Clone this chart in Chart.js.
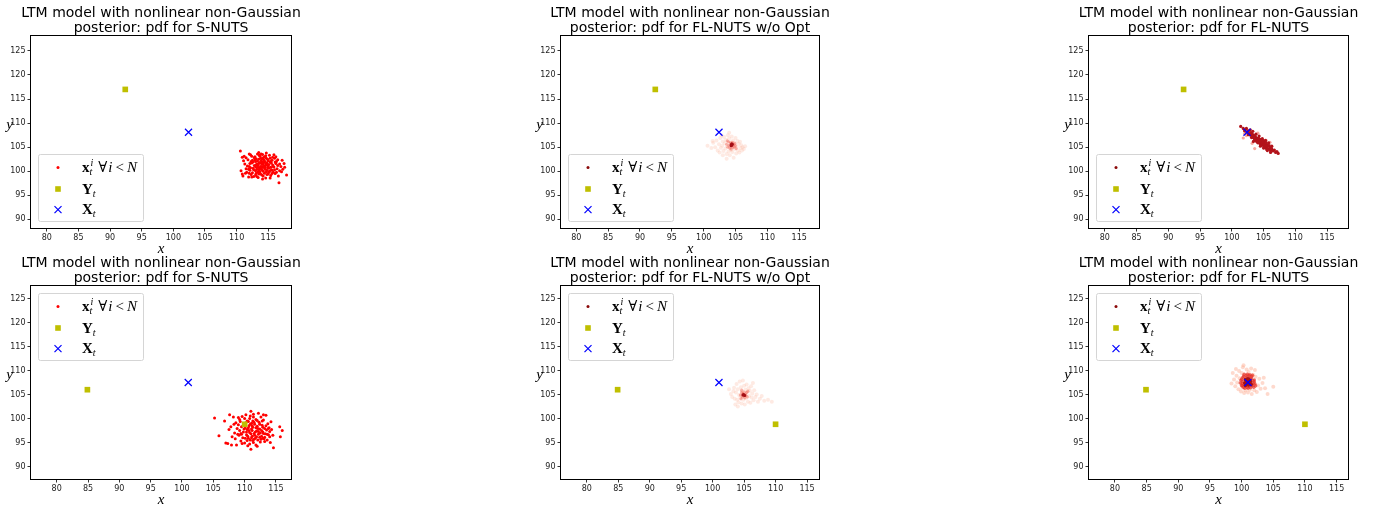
<!DOCTYPE html>
<html>
  <head>
    <meta charset="utf-8" />
    <title>LTM posterior pdf</title>
    <script src="https://cdn.jsdelivr.net/npm/chart.js@4.4.1/dist/chart.umd.min.js"></script>
    <style>
      body { margin: 0; background: #fff; width: 1380px; height: 508px; overflow: hidden; position: relative; }
      canvas { position: absolute; }
    </style>
  </head>
  <body>
    <script>
      // ---- data ----
      const xTicks = [80, 85, 90, 95, 100, 105, 110, 115];
      const yTicks = [90, 95, 100, 105, 110, 115, 120, 125];
      const titleLine1 = "LTM model with nonlinear non-Gaussian";
      const titleLine2 = [
        "posterior: pdf for S-NUTS",
        "posterior: pdf for FL-NUTS w/o Opt",
        "posterior: pdf for FL-NUTS",
      ];

      const obsTop = [[92.4, 117.0]];
      const truthTop = [[102.4, 108.1]];
      const obsBottom = [[84.9, 106.1], [110.0, 98.9]];
      const truthBottom = [[101.0, 107.6]];

      // S-NUTS samples, top row
      const snutsTop = [
        [110.6,104.2],[110.9,102.9],[111.2,103.1],[110.7,100.1],[110.9,99.4],[111.0,99.0],[111.3,101.5],[111.5,100.5],
        [111.6,99.8],[111.8,102.4],[111.9,98.8],[112.0,101.0],[112.1,100.2],[112.2,103.4],[112.3,99.3],[112.4,101.7],
        [112.5,102.3],[112.6,100.6],[112.7,98.9],[112.8,101.2],[112.9,103.0],[113.0,100.1],[113.0,102.0],[113.1,99.6],
        [113.2,101.5],[113.3,103.6],[113.3,100.8],[113.4,98.7],[113.5,102.5],[113.5,100.3],[113.6,101.8],[113.7,99.9],
        [113.7,103.1],[113.8,101.0],[113.9,100.5],[113.9,102.2],[114.0,99.2],[114.0,101.4],[114.1,103.5],[114.2,100.0],
        [114.2,102.8],[114.3,101.1],[114.4,99.6],[114.4,100.7],[114.5,102.0],[114.6,103.2],[114.6,98.6],[114.7,101.6],
        [114.8,100.2],[114.9,102.5],[115.0,99.4],[115.0,101.0],[115.1,100.6],[115.2,103.3],[115.3,101.9],[115.4,99.1],
        [115.5,100.3],[115.6,102.3],[115.7,101.3],[115.8,99.8],[115.9,100.9],[116.0,102.7],[116.1,99.5],[116.2,101.6],
        [116.4,100.5],[116.5,101.2],[116.7,97.6],[116.8,100.1],[117.0,101.0],[117.3,100.4],[117.5,101.6],[117.6,100.8],
        [117.9,99.2],[112.2,100.7],[112.6,101.9],[113.0,100.9],[113.2,98.9],[113.4,101.2],[113.6,100.0],[113.8,102.7],
        [114.0,100.3],[114.3,102.4],[114.5,100.9],[114.8,101.7],[115.1,99.8],[115.4,102.0],[111.4,99.6],[111.7,101.1],
        [112.0,99.6],[112.9,102.4],[113.5,99.4],[114.1,101.9],[114.7,99.9],[115.6,100.2],[116.3,102.0],[111.1,102.2],
        [112.4,98.8],[113.9,103.6],[115.9,103.4],[116.6,99.0],[113.1,101.3],[114.2,101.5],[113.6,100.7],[114.9,101.3],
        [112.1,101.6],[112.3,102.0],[112.5,99.7],[112.7,100.3],[112.8,102.8],[113.0,99.2],[113.1,102.6],[113.2,100.4],
        [113.3,102.1],[113.4,99.9],[113.5,101.6],[113.6,103.3],[113.7,100.6],[113.8,99.4],[113.9,101.7],[114.0,102.6],
        [114.1,100.8],[114.2,99.0],[114.3,101.8],[114.4,103.0],[114.5,100.4],[114.6,101.3],[114.7,102.7],[114.8,99.3],
        [114.9,100.7],[115.0,102.2],[115.1,101.4],[115.2,100.0],[115.3,102.7],[115.4,100.8],[115.5,101.7],[115.6,99.5],
        [115.7,102.9],[115.8,101.0],[116.0,100.3],[116.1,101.9],[116.3,99.8],[116.5,102.4],[116.8,101.5],[117.1,99.9],
        [112.4,103.1],[111.9,100.4],[111.5,102.8],[112.0,103.6],[113.5,103.9],[114.7,103.8],[116.2,103.0],[117.2,102.3],
        [114.1,98.4],[115.3,98.6]
      ];

      // FL-NUTS w/o Opt samples, top row (faint / mid / core density)
      const flnoTopFaint = [
        [100.6,105.3],[101.2,104.8],[101.5,105.9],[101.8,105.0],[102.0,106.4],[102.2,104.3],[102.4,105.6],[102.6,106.9],
        [102.7,104.9],[102.9,105.3],[103.0,106.2],[103.1,104.2],[103.2,107.1],[103.3,105.8],[103.4,104.7],[103.5,106.5],
        [103.6,103.6],[103.7,105.2],[103.8,107.5],[103.9,104.1],[104.0,106.8],[104.1,103.3],[104.2,106.0],[104.3,104.4],
        [104.4,107.2],[104.5,104.0],[104.6,106.4],[104.7,102.8],[104.8,105.9],[104.9,104.6],[105.0,106.9],[105.1,103.7],
        [105.2,105.1],[105.3,106.3],[105.4,104.3],[105.5,105.7],[105.6,103.9],[105.7,106.1],[105.8,104.8],[105.9,105.4],
        [106.0,104.3],[106.1,105.0],[106.3,104.6],[106.5,105.2],[102.5,103.9],[103.0,103.3],[103.6,102.6],[104.0,108.0],
        [102.8,107.4],[101.4,106.3]
      ];
      const flnoTopMid = [
        [103.6,105.6],[103.8,105.0],[103.9,106.1],[104.0,105.4],[104.1,104.8],[104.2,105.9],[104.4,105.2],[104.5,106.0],
        [104.6,104.9],[104.7,105.6],[104.8,105.1],[104.9,105.8],[105.0,105.3],[104.3,104.6],[103.7,106.3],[105.1,104.7]
      ];
      const flnoTopCore = [[104.3,105.5],[104.4,105.4],[104.5,105.6],[104.4,105.7],[104.3,105.3]];

      // FL-NUTS samples, top row
      const flTopDark = [
        [101.4,109.3],[101.8,108.9],[102.0,108.4],[102.2,108.7],[102.4,108.1],[102.6,108.4],[102.7,107.8],[102.9,108.0],
        [103.0,107.5],[103.1,107.9],[103.2,107.2],[103.3,107.6],[103.4,107.0],[103.5,107.4],[103.6,106.8],[103.7,107.2],
        [103.8,106.5],[103.9,106.9],[104.0,106.3],[104.0,106.8],[104.1,106.6],[104.2,106.0],[104.3,106.4],[104.4,105.8],
        [104.4,106.6],[104.5,106.1],[104.6,105.6],[104.7,106.2],[104.8,105.5],[104.9,105.9],[105.0,105.3],[105.0,106.0],
        [105.1,105.6],[105.2,105.1],[105.3,105.7],[105.4,104.9],[105.5,105.4],[105.6,104.7],[105.7,105.2],[105.8,104.6],
        [106.0,104.8],[106.1,104.3],[106.3,104.6],[106.5,104.2],[106.7,104.4],[106.9,103.9],[107.1,104.1],[107.3,103.7],
        [102.8,107.6],[103.5,106.9],[104.2,106.9],[104.6,106.6],[105.2,106.2],[105.6,105.5],[104.1,105.9],[103.9,106.2],
        [102.3,108.9],[102.9,108.6],[103.3,108.3],[103.8,107.7],[104.3,107.3],[104.8,106.8],[105.3,106.4],[105.8,105.9],
        [106.3,105.2],[102.6,107.6],[103.1,107.0],[103.6,106.5],[104.1,106.0],[104.6,105.4],[105.1,104.9],[105.6,104.3],
        [106.1,103.9],[104.5,105.2],[105.0,104.8],[105.5,104.5],[103.4,106.2],[104.9,106.4],[105.4,105.9],[105.9,105.3],
        [106.2,104.9]
      ];
      const flTopLight = [[101.8,106.9],[104.1,107.9],[103.6,104.7],[105.4,106.4],[102.3,107.4],[103.2,105.8],[106.0,106.0],[102.0,107.8]];

      // S-NUTS samples, bottom row
      const snutsBottom = [
        [105.2,100.2],[105.9,96.5],[106.8,99.6],[107.0,95.0],[107.3,94.9],[107.5,97.8],[107.6,100.9],[107.8,98.4],
        [107.9,94.6],[108.0,96.3],[108.2,100.4],[108.4,97.1],[108.5,95.9],[108.6,99.2],[108.7,94.6],[108.8,98.0],
        [109.0,100.3],[109.1,96.6],[109.2,97.6],[109.3,99.5],[109.4,95.4],[109.5,98.4],[109.6,100.5],[109.7,96.1],
        [109.8,97.3],[109.9,99.0],[110.0,95.0],[110.1,98.1],[110.2,100.9],[110.3,96.7],[110.4,97.8],[110.4,99.6],
        [110.5,94.4],[110.6,96.0],[110.7,98.6],[110.8,97.2],[110.8,100.1],[110.9,95.6],[111.0,101.6],[111.0,93.7],
        [111.1,97.9],[111.1,99.1],[111.2,96.4],[111.3,98.3],[111.4,95.1],[111.4,100.4],[111.5,97.0],[111.6,98.9],
        [111.7,96.0],[111.8,99.9],[111.8,94.6],[111.9,97.5],[112.0,98.5],[112.1,95.6],[112.2,101.2],[112.2,96.8],
        [112.3,99.3],[112.4,97.9],[112.5,95.2],[112.6,100.4],[112.7,96.4],[112.8,98.7],[112.9,97.3],[113.0,99.8],
        [113.1,95.9],[113.2,98.0],[113.3,96.9],[113.4,100.8],[113.5,97.7],[113.6,95.6],[113.7,99.0],[113.8,96.7],
        [113.9,98.2],[114.0,97.4],[114.1,95.1],[114.2,99.4],[114.6,94.0],[115.6,98.4],[115.7,96.3],[116.0,97.6],
        [110.3,97.3],[110.9,98.9],[111.2,97.6],[111.6,96.6],[112.1,98.0],[112.4,96.2],[112.9,98.3],[109.4,97.0],
        [109.8,98.7],[110.6,99.5],[111.5,95.8],[112.7,97.6],[113.2,96.2],[110.1,96.0],[109.0,98.8],[111.3,99.6],
        [109.5,96.8],[109.9,97.9],[110.2,99.2],[110.5,96.4],[110.7,97.6],[110.9,100.6],[111.0,96.9],[111.2,98.6],
        [111.3,95.5],[111.5,99.3],[111.7,97.3],[111.9,96.3],[112.0,99.7],[112.2,97.4],[112.4,98.9],[112.6,95.8],
        [112.8,99.6],[113.0,97.0],[113.2,95.3],[113.4,98.6],[113.6,96.8],[113.8,98.0],[114.0,96.3],[114.3,97.8],
        [114.5,96.6],[110.0,100.1],[108.9,96.8],[108.3,98.9],[109.6,94.9],[110.8,94.8],[112.0,94.3],[113.0,100.9],
        [111.4,101.0],[110.4,95.5],[109.2,99.9],[111.8,98.2],[112.5,97.1],[110.6,98.2],[111.1,96.1],[112.9,96.0]
      ];

      // FL-NUTS w/o Opt samples, bottom row
      const flnoBotFaint = [
        [102.9,105.2],[103.1,104.6],[103.3,105.8],[103.4,106.5],[103.5,104.2],[103.7,105.5],[103.8,107.3],[103.9,104.0],
        [104.0,106.2],[104.1,103.5],[104.2,105.0],[104.3,107.8],[104.4,104.4],[104.5,106.6],[104.6,103.2],[104.7,105.8],
        [104.8,108.0],[104.9,104.0],[105.0,106.9],[105.1,103.0],[105.2,106.1],[105.3,104.3],[105.4,107.2],[105.5,105.6],
        [105.6,103.6],[105.7,106.4],[105.8,104.8],[105.9,105.9],[106.0,103.4],[106.1,106.8],[106.2,104.5],[106.3,105.3],
        [106.5,103.9],[106.6,106.0],[106.8,104.6],[107.0,105.1],[107.2,103.6],[107.5,104.2],[107.8,104.8],[108.2,103.8],
        [108.8,104.0],[109.4,103.6],[103.6,103.0],[104.0,102.6],[106.4,107.5],[102.6,106.2]
      ];
      const flnoBotMid = [
        [104.4,105.0],[104.6,105.5],[104.7,104.6],[104.8,105.3],[104.9,104.8],[105.0,105.6],[105.1,104.4],[105.2,105.2],
        [105.3,104.9],[105.4,105.5],[104.5,104.2],[105.5,104.6],[104.6,106.0],[105.6,105.8]
      ];
      const flnoBotCore = [[105.0,105.0],[104.9,105.1],[105.1,104.9],[104.8,105.0]];

      // FL-NUTS samples, bottom row
      const flBotFaint = [
        [98.4,107.4],[98.8,108.2],[99.0,106.8],[99.2,109.0],[99.3,107.6],[99.5,106.2],[99.6,110.0],[99.7,108.5],
        [99.9,105.7],[100.0,109.6],[100.1,106.5],[100.2,110.8],[100.4,105.4],[100.5,109.1],[100.6,106.0],[100.8,110.3],
        [101.0,105.5],[101.1,109.8],[101.3,106.1],[101.5,110.5],[101.6,105.2],[101.8,109.2],[102.0,106.0],[102.2,108.8],
        [102.4,105.6],[102.6,107.0],[102.8,108.4],[103.0,106.3],[103.3,107.5],[103.7,106.4],[104.1,105.2],[105.0,106.7],
        [99.1,110.4],[100.3,111.2],[102.1,110.2],[98.6,109.6],[103.5,108.6]
      ];
      const flBotMid = [
        [99.8,107.5],[100.0,108.3],[100.1,106.9],[100.3,108.9],[100.4,107.2],[100.5,106.4],[100.6,108.1],[100.8,109.0],
        [100.9,106.6],[101.1,108.6],[101.2,106.8],[101.4,108.2],[101.5,107.0],[101.6,108.8],[101.8,107.4],[101.9,106.6],
        [102.0,108.1],[102.1,107.3],[100.2,107.8],[101.3,109.2],[99.9,108.0],[100.0,107.0],[100.2,108.6],[100.3,106.6],
        [100.4,109.3],[100.6,106.9],[100.7,108.6],[100.9,109.3],[101.0,106.4],[101.2,109.0],[101.4,106.5],[101.5,108.5],
        [101.7,107.0],[101.8,108.0],[102.0,107.7],[102.2,106.9],[100.1,107.4],[101.7,109.1]
      ];
      const flBotCore = [
        [100.5,107.5],[100.7,107.9],[100.8,107.2],[101.0,107.7],[101.2,108.0],[101.3,107.4],[100.9,108.3],[101.1,107.1],
        [100.6,107.0],[101.4,107.8],[100.8,107.6],[101.1,108.3],[100.6,108.2],[101.5,107.2]
      ];

      // ---- styling ----
      const OLIVE = "#bfbf00";
      const SERIF = '"Liberation Serif", "DejaVu Serif", serif';

      const pts = (arr) => arr.map(([x, y]) => ({ x, y }));
      const cloud = (arr, color, r) => ({
        data: pts(arr), backgroundColor: color, pointRadius: r || 1.5,
        pointBorderWidth: 0, pointStyle: "circle",
      });
      const obsSet = (arr) => ({
        data: pts(arr), backgroundColor: OLIVE, pointStyle: "rect",
        pointRadius: 4, pointBorderWidth: 0,
      });
      const truthSet = (arr) => ({
        data: pts(arr), borderColor: "#0000ff", pointStyle: "crossRot",
        pointRadius: 5, pointBorderWidth: 1.2,
      });

      // panel layout: [plotLeft, plotTop, plotW, plotH]
      const panels = [
        { box: [31, 36, 260, 192], x: [77.5, 118.6], y: [88.2, 128.1], title: titleLine2[0], legend: "bottom", legendColor: "#ff0000",
          sets: [truthSet(truthTop), obsSet(obsTop), cloud(snutsTop, "#ff0000")] },
        { box: [561, 36, 258, 192], x: [77.6, 118.1], y: [88.2, 128.1], title: titleLine2[1], legend: "bottom", legendColor: "#8b0a0a",
          sets: [truthSet(truthTop), obsSet(obsTop), cloud(flnoTopCore, "#a50f15", 1.5), cloud(flnoTopMid, "rgba(239,59,44,0.35)", 1.6), cloud(flnoTopFaint, "rgba(252,187,161,0.3)", 2)] },
        { box: [1089, 36, 259, 192], x: [77.5, 118.3], y: [88.2, 128.1], title: titleLine2[2], legend: "bottom", legendColor: "#8b0a0a",
          sets: [truthSet(truthTop), obsSet(obsTop), cloud(flTopDark, "#b3131b", 1.6), cloud(flTopLight, "rgba(239,59,44,0.45)", 1.6)] },
        { box: [31, 286, 260, 193], x: [75.9, 117.4], y: [87.5, 127.7], title: titleLine2[0], legend: "top", legendColor: "#ff0000",
          sets: [truthSet(truthBottom), obsSet(obsBottom), cloud(snutsBottom, "#ff0000")] },
        { box: [561, 286, 258, 193], x: [75.9, 116.9], y: [87.5, 127.7], title: titleLine2[1], legend: "top", legendColor: "#8b0a0a",
          sets: [truthSet(truthBottom), obsSet(obsBottom), cloud(flnoBotCore, "#a50f15", 1.5), cloud(flnoBotMid, "rgba(239,59,44,0.35)", 1.6), cloud(flnoBotFaint, "rgba(252,187,161,0.3)", 2)] },
        { box: [1089, 286, 259, 193], x: [75.9, 116.8], y: [87.5, 127.7], title: titleLine2[2], legend: "top", legendColor: "#8b0a0a",
          sets: [truthSet(truthBottom), obsSet(obsBottom), cloud(flBotCore, "#a50f15", 1.8), cloud(flBotMid, "rgba(230,50,38,0.7)", 1.8), cloud(flBotFaint, "rgba(252,160,130,0.4)", 2)] },
      ];

      function drawRuns(ctx, x, y, runs) {
        for (const r of runs) {
          if (r.sup !== undefined) {
            ctx.font = "italic 10px " + SERIF;
            let w = 0;
            if (r.sup) { ctx.fillText(r.sup, x + 1, y - 6); w = Math.max(w, ctx.measureText(r.sup).width + 1); }
            if (r.sub) { ctx.fillText(r.sub, x, y + 3); w = Math.max(w, ctx.measureText(r.sub).width); }
            x += w + (r.gap || 0);
          } else {
            ctx.font = r.font;
            ctx.fillText(r.text, x, y);
            x += ctx.measureText(r.text).width + (r.gap || 0);
          }
        }
      }

      const panelPlugin = {
        id: "panel",
        afterDraw(chart, args, opts) {
          const { ctx, chartArea: a } = chart;
          ctx.save();
          // frame
          ctx.strokeStyle = "#000";
          ctx.lineWidth = 1;
          ctx.strokeRect(a.left - 0.5, a.top - 0.5, a.right - a.left + 1, a.bottom - a.top + 1);
          // title
          const cx = (a.left + a.right) / 2;
          ctx.fillStyle = "#000";
          ctx.textAlign = "center";
          ctx.textBaseline = "alphabetic";
          ctx.font = '14px "DejaVu Sans"';
          ctx.fillText(titleLine1, cx, a.top - 19.3);
          ctx.fillText(opts.title, cx, a.top - 4.3);
          // axis labels
          ctx.font = "italic 15px " + SERIF;
          ctx.fillText("x", cx, a.bottom + 24.5);
          ctx.textAlign = "right";
          ctx.fillText("y", a.left - 18, (a.top + a.bottom) / 2 - 3.5);
          // legend
          const w = 105, h = 67;
          const x0 = a.left + 7;
          const y0 = opts.legend === "top" ? a.top + 7 : a.bottom - 7 - h;
          ctx.beginPath();
          ctx.roundRect(x0 + 0.5, y0 + 0.5, w, h, 2);
          ctx.fillStyle = "rgba(255,255,255,0.8)";
          ctx.fill();
          ctx.strokeStyle = "#d5d5d5";
          ctx.stroke();
          const mx = x0 + 20;
          const rows = [y0 + 13.5, y0 + 35, y0 + 55.7];
          ctx.fillStyle = opts.legendColor;
          ctx.beginPath();
          ctx.arc(mx, rows[0], 1.5, 0, Math.PI * 2);
          ctx.fill();
          ctx.fillStyle = OLIVE;
          ctx.fillRect(mx - 2.8, rows[1] - 2.8, 5.6, 5.6);
          ctx.strokeStyle = "#0000ff";
          ctx.lineWidth = 1.2;
          ctx.beginPath();
          ctx.moveTo(mx - 3.5, rows[2] - 3.5); ctx.lineTo(mx + 3.5, rows[2] + 3.5);
          ctx.moveTo(mx + 3.5, rows[2] - 3.5); ctx.lineTo(mx - 3.5, rows[2] + 3.5);
          ctx.stroke();
          ctx.fillStyle = "#000";
          ctx.textAlign = "left";
          const tx = x0 + 44;
          const B = "bold 15px " + SERIF, I = "italic 15px " + SERIF, R = "15px " + SERIF;
          drawRuns(ctx, tx, rows[0] + 4.5, [
            { text: "x", font: B }, { sup: "i", sub: "t", gap: 5 },
            { text: "\u2200", font: R, gap: 1 }, { text: "i", font: I, gap: 3 },
            { text: "<", font: R, gap: 3 }, { text: "N", font: I },
          ]);
          drawRuns(ctx, tx, rows[1] + 4.5, [{ text: "Y", font: B }, { sup: "", sub: "t" }]);
          drawRuns(ctx, tx, rows[2] + 4.5, [{ text: "X", font: B }, { sup: "", sub: "t" }]);
          ctx.restore();
        },
      };

      const tickFont = { family: "DejaVu Sans", size: 8 };

      panels.forEach((p) => {
        const [pl, pt, pw, ph] = p.box;
        const canvas = document.createElement("canvas");
        canvas.width = pw + 31 + 10;
        canvas.height = ph + 36 + 30;
        canvas.style.left = pl - 31 + "px";
        canvas.style.top = pt - 36 + "px";
        document.body.appendChild(canvas);

        new Chart(canvas, {
          type: "scatter",
          data: { datasets: p.sets },
          plugins: [panelPlugin],
          options: {
            responsive: false,
            animation: false,
            events: [],
            layout: { padding: { top: 36, right: 10, left: 0, bottom: 0 } },
            plugins: {
              legend: { display: false },
              tooltip: { enabled: false },
              panel: { title: p.title, legend: p.legend, legendColor: p.legendColor },
            },
            scales: {
              x: {
                type: "linear",
                min: p.x[0],
                max: p.x[1],
                afterBuildTicks: (s) => { s.ticks = xTicks.map((v) => ({ value: v })); },
                afterFit: (s) => { s.height = 30; },
                grid: { drawOnChartArea: false, tickLength: 3.5, color: "#000", lineWidth: 0.8 },
                border: { display: false },
                ticks: { font: tickFont, color: "#222", padding: 2, maxRotation: 0, autoSkip: false },
              },
              y: {
                type: "linear",
                min: p.y[0],
                max: p.y[1],
                afterBuildTicks: (s) => { s.ticks = yTicks.map((v) => ({ value: v })); },
                afterFit: (s) => { s.width = 31; },
                grid: { drawOnChartArea: false, tickLength: 3.5, color: "#000", lineWidth: 0.8 },
                border: { display: false },
                ticks: { font: tickFont, color: "#222", padding: 2, autoSkip: false },
              },
            },
          },
        });
      });
    </script>
  </body>
</html>
